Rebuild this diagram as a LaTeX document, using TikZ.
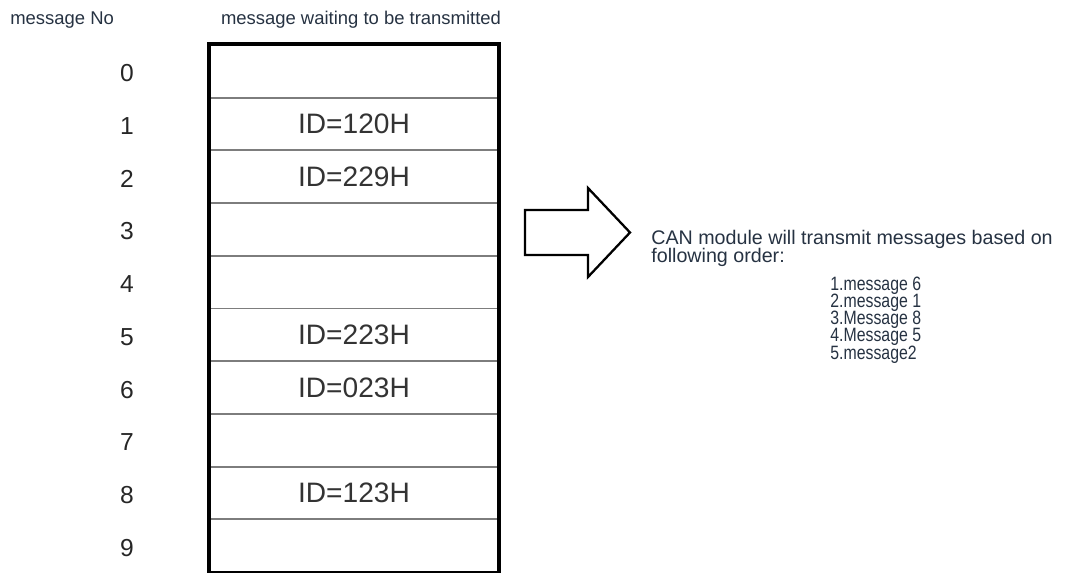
\documentclass[tikz,border=0pt]{standalone}
\usepackage{fontspec}
\setmainfont{Liberation Sans}
\newfontfamily\narrowfont[FakeStretch=0.82]{Liberation Sans}
\usetikzlibrary{positioning}
\definecolor{txtc}{RGB}{38,50,66}
\definecolor{sepc}{RGB}{125,125,125}
\newcommand{\tightlines}{\lineskiplimit=-20pt\relax}
\tikzset{
  slot/.style={draw=sepc, line width=1.1pt, minimum width=5.76cm, minimum height=1.054cm,
               inner sep=0pt, font=\fontsize{16}{18}\selectfont, text=black!80},
  num/.style={font=\fontsize{14}{16}\selectfont, text=black!85},
  hdr/.style={font=\fontsize{10.5}{12}\selectfont, text=txtc, inner sep=0pt},
  note/.style={align=left, inner sep=0pt, text=txtc},
  blockarr/.style={draw, line width=1.3pt, line join=miter},
}

\begin{document}
\begin{tikzpicture}[x=0.02cm, y=-0.02cm]
  \useasboundingbox (0,0) rectangle (1065,572);
  \node[hdr, anchor=west] (colno) at (10,20) {message No};
  \node[hdr] (colmsg) at (361,20) {message waiting to be transmitted};
  \foreach \i/\id in {0/,1/ID=120H,2/ID=229H,3/,4/,5/ID=223H,6/ID=023H,7/,8/ID=123H,9/} {
    \node[slot] (row\i) at (354,{45+52.7*(\i+0.5)}) {\id};
    \node[num] (no\i) at (127,{47+52.7*(\i+0.5)}) {\i};
  }
  \draw[line width=1.8pt] (row0.north west) rectangle (row9.south east);
  \draw[blockarr] (525,210) -- (588,210) -- (588,188) -- (630,232.5)
    -- (588,277) -- (588,255) -- (525,255) -- cycle;
  \node[note, anchor=north west, font=\fontsize{11.2}{10.3}\selectfont\tightlines] (order) at (651,230)
    {CAN module will transmit messages based on\\following order:};
  \node[note, anchor=north west,
        font=\narrowfont\fontsize{11}{9.7}\selectfont\tightlines] (list) at (830,277)
    {1.message 6\\2.message 1\\3.Message 8\\4.Message 5\\5.message2};
\end{tikzpicture}
\end{document}
